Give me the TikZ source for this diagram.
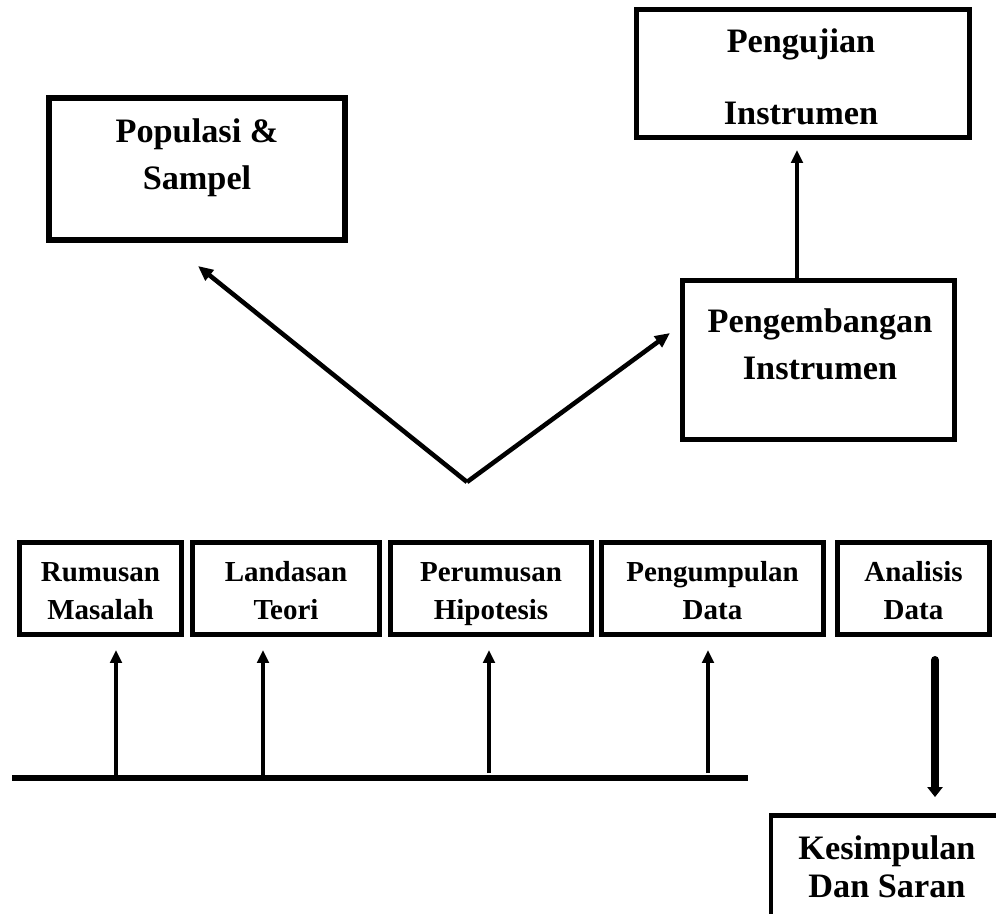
\documentclass[tikz,border=0pt]{standalone}
\usepackage{fontspec}
\setmainfont{Liberation Serif}
\usetikzlibrary{arrows.meta}

\begin{document}
\begin{tikzpicture}[
  x=0.02cm, y=-0.02cm,
  box/.style={draw, line width=2.8pt, inner sep=0pt},
  rowbox/.style={box, minimum height=1.84cm, align=center,
    font=\fontsize{16.5}{22}\selectfont\bfseries,
    text height=35.8pt, text depth=0pt},
  bigtxt/.style={align=center, font=\fontsize{19.5}{26.7}\selectfont\bfseries},
  arr/.style={-{Triangle[length=0.26cm, width=0.23cm]}, line width=2.2pt},
  varr/.style={-{Triangle[length=0.3cm, width=0.26cm]}, line width=2.6pt},
  downarr/.style={-{Triangle[length=0.2cm, width=0.3cm]}, line width=4.5pt, line cap=round},
  baseln/.style={line width=3.4pt}
]
\useasboundingbox (0,0) rectangle (996,913);
\clip (0,0) rectangle (996,913);

% upper boxes
\node[box, line width=3.4pt, minimum width=5.92cm, minimum height=2.84cm] (pop) at (197,169) {};
\node[bigtxt] (popT) at (197,158) {Populasi \&\\Sampel};
\node[box, minimum width=6.66cm, minimum height=2.56cm] (test) at (803,73.5) {};
\node[bigtxt] (testT) at (801,77) {Pengujian\\[14pt]Instrumen};
\node[box, minimum width=5.44cm, minimum height=3.18cm] (dev) at (818.5,360) {};
\node[bigtxt] (devT) at (820,344.5) {Pengembangan\\Instrumen};

% row of steps
\node[rowbox, minimum width=3.24cm] (rm) at (100.5,588.5) {Rumusan\\Masalah};
\node[rowbox, minimum width=3.74cm] (lt) at (286,588.5) {Landasan\\Teori};
\node[rowbox, minimum width=4.02cm] (ph) at (491,588.5) {Perumusan\\Hipotesis};
\node[rowbox, minimum width=4.44cm] (pd) at (712.5,588.5) {Pengumpulan\\Data};
\node[rowbox, minimum width=3.04cm] (ad) at (913.5,588.5) {Analisis\\Data};

% conclusion
\node[box, minimum width=4.7cm, minimum height=2.89cm] (kes) at (888.5,887.75) {};
\node[bigtxt, font=\fontsize{19.5}{21.6}\selectfont\bfseries] (kesT) at (887,867) {Kesimpulan\\Dan Saran};

% V arrows
\coordinate (v) at (467,482);
\coordinate (popTip) at (198,266);
\coordinate (devTip) at (670,333);
\draw[varr] (v) -- (popTip);
\draw[varr] (v) -- (devTip);

% up to Pengujian
\coordinate (upx) at (797,0);
\draw[arr, line width=2.6pt, shorten >=0.2cm] (dev.north -| upx) -- (test.south -| upx);

% floor line and arrows
\coordinate (l0) at (12,778);
\coordinate (l1) at (748,778);
\draw[baseln] (l0) -- (l1);
\coordinate (u1) at (116,778);
\coordinate (u2) at (263,778);
\coordinate (u3) at (489,773);
\coordinate (u4) at (708,773);
\draw[arr, shorten >=0.26cm] (u1) -- (rm.south -| u1);
\draw[arr, shorten >=0.26cm] (u2) -- (lt.south -| u2);
\draw[arr, shorten >=0.26cm] (u3) -- (ph.south -| u3);
\draw[arr, shorten >=0.26cm] (u4) -- (pd.south -| u4);

% down to Kesimpulan
\coordinate (downx) at (935,0);
\draw[downarr, shorten <=0.46cm, shorten >=0.32cm] (ad.south -| downx) -- (kes.north -| downx);
\end{tikzpicture}
\end{document}
